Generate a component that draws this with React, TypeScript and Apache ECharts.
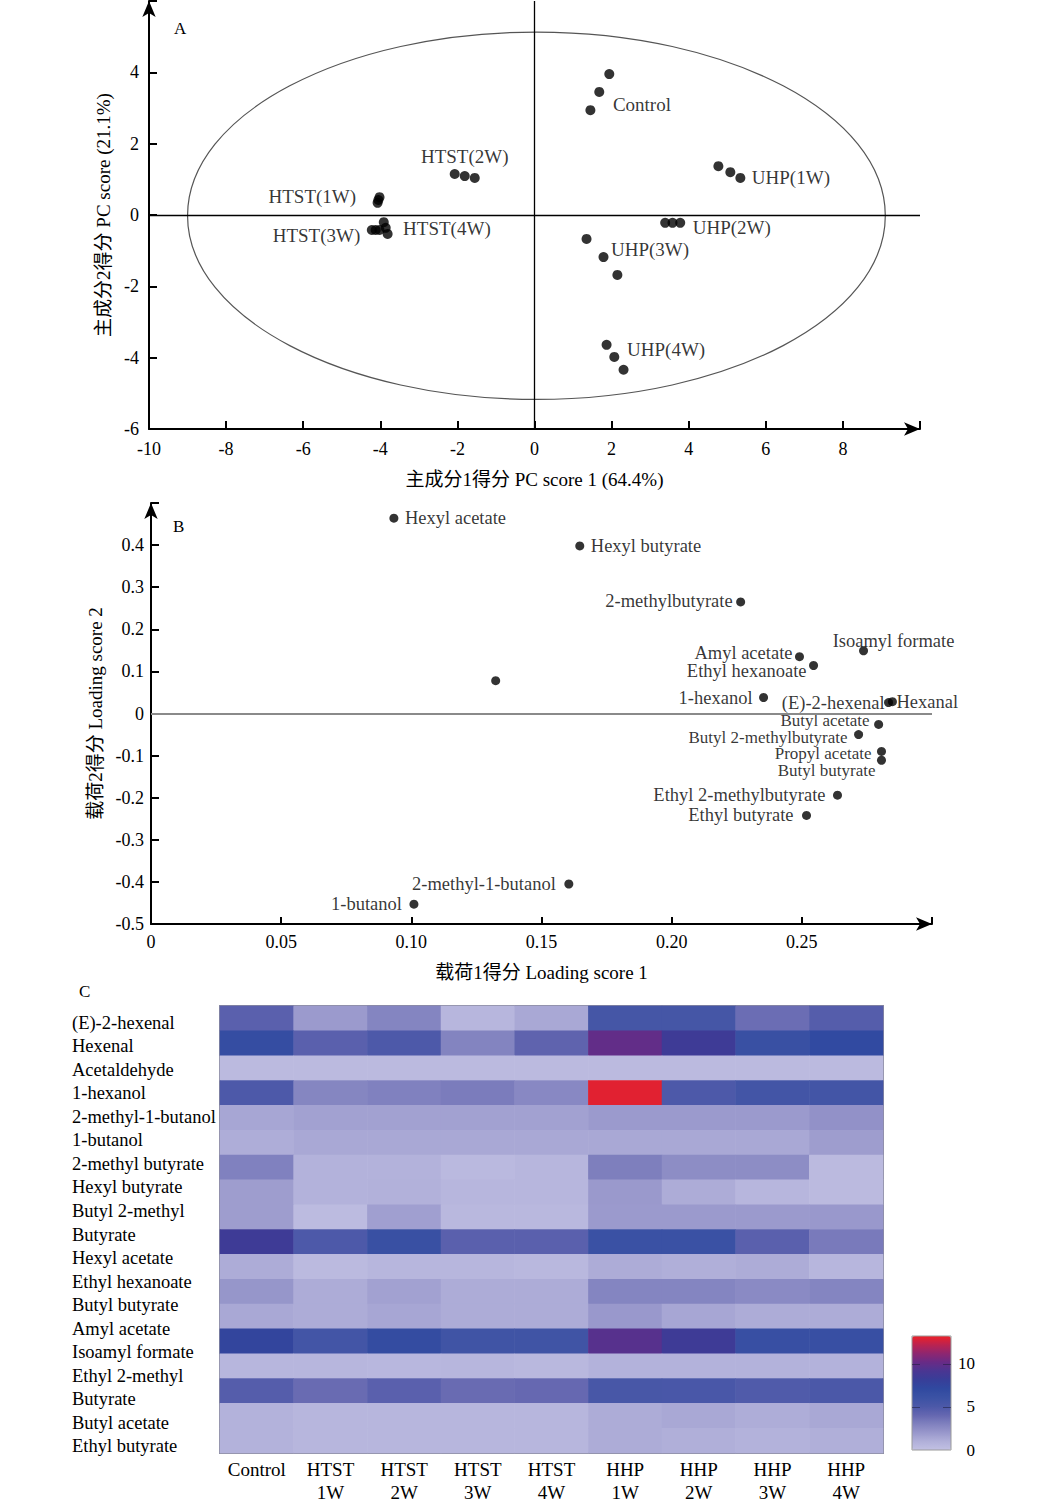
import React, { useEffect, useRef } from 'react';
import * as echarts from 'echarts';

const FONT = "'Liberation Serif', 'Noto Sans CJK SC', serif";

// ---------- Panel A: PC scores ----------
const pcGroupNames = ['Control', 'UHP(1W)', 'UHP(2W)', 'UHP(3W)', 'UHP(4W)', 'HTST(1W)', 'HTST(2W)', 'HTST(3W)', 'HTST(4W)'];
const pcControl = [[1.94, 3.95], [1.68, 3.45], [1.45, 2.94]];
const pcUhp1 = [[4.77, 1.37], [5.08, 1.2], [5.34, 1.04]];
const pcUhp2 = [[3.39, -0.22], [3.58, -0.22], [3.78, -0.22]];
const pcUhp3 = [[1.35, -0.67], [1.79, -1.18], [2.15, -1.68]];
const pcUhp4 = [[1.87, -3.64], [2.07, -3.98], [2.31, -4.34]];
const pcHtst1 = [[-4.07, 0.34], [-4.05, 0.42], [-4.02, 0.5]];
const pcHtst2 = [[-2.07, 1.15], [-1.81, 1.09], [-1.55, 1.04]];
const pcHtst3 = [[-4.22, -0.42], [-4.12, -0.42], [-4.02, -0.42]];
const pcHtst4 = [[-3.91, -0.2], [-3.86, -0.36], [-3.81, -0.53]];
const pcGroupPoints = [pcControl, pcUhp1, pcUhp2, pcUhp3, pcUhp4, pcHtst1, pcHtst2, pcHtst3, pcHtst4];
// confidence ellipse: centre x, centre y, semi-axis x, semi-axis y
const pcEllipse = [[0.05, -0.02, 9.05, 5.15]];
const pcXTicks = { min: -10, max: 10, interval: 2 };
const pcYTicks = { min: -6, max: 6, interval: 2 };
// label placement (style): which point carries the label, side, offset
const pcLabelStyle = [
  { at: 2, pos: 'right', off: [17.5, -6] },
  { at: 2, pos: 'right', off: [6.5, 0] },
  { at: 2, pos: 'right', off: [7.5, 5] },
  { at: 1, pos: 'right', off: [2.5, -8] },
  { at: 0, pos: 'right', off: [15.5, 5] },
  { at: 0, pos: 'left', off: [-16.5, -6] },
  { at: 1, pos: 'top', off: [0, -5] },
  { at: 0, pos: 'left', off: [-6.5, 6] },
  { at: 2, pos: 'right', off: [10.5, -5] },
];

// ---------- Panel B: loadings ----------
const loadNames = ['Hexyl acetate', 'Hexyl butyrate', '2-methylbutyrate', 'Isoamyl formate', 'Amyl acetate', 'Ethyl hexanoate', '', '1-hexanol', '(E)-2-hexenal', 'Hexanal', 'Butyl acetate', 'Butyl 2-methylbutyrate', 'Propyl acetate', 'Butyl butyrate', 'Ethyl 2-methylbutyrate', 'Ethyl butyrate', '2-methyl-1-butanol', '1-butanol'];
const loadX = [0.0933, 0.1647, 0.2265, 0.2737, 0.2491, 0.2545, 0.1324, 0.2353, 0.2833, 0.2848, 0.2795, 0.2718, 0.2806, 0.2806, 0.2637, 0.2518, 0.1605, 0.101];
const loadY = [0.464, 0.398, 0.265, 0.149, 0.135, 0.114, 0.078, 0.038, 0.026, 0.028, -0.026, -0.05, -0.09, -0.111, -0.194, -0.242, -0.405, -0.453];
const loadLabelStyle = [
  { pos: 'right', off: [6.5, 0], size: 18.5 },
  { pos: 'right', off: [6.5, 0], size: 18.5 },
  { pos: 'left', off: [-3.5, -1], size: 18.5 },
  { pos: 'top', off: [30, 4], size: 18.5 },
  { pos: 'left', off: [-2.5, -4], size: 18.5 },
  { pos: 'left', off: [-2.5, 5], size: 18.5 },
  { pos: 'left', off: [0, 0], size: 18.5 },
  { pos: 'left', off: [-6.5, 0], size: 18.5 },
  { pos: 'left', off: [0.5, 0], size: 18.5 },
  { pos: 'right', off: [-0.5, 0], size: 18.5 },
  { pos: 'left', off: [-4.5, -4], size: 17 },
  { pos: 'left', off: [-6.5, 3], size: 17 },
  { pos: 'left', off: [-5.5, 2], size: 17 },
  { pos: 'left', off: [-1.5, 10], size: 17 },
  { pos: 'left', off: [-7.5, 0], size: 18.5 },
  { pos: 'left', off: [-8.5, 0], size: 18.5 },
  { pos: 'left', off: [-8.5, 0], size: 18.5 },
  { pos: 'left', off: [-7.5, 0], size: 18.5 },
];
const loadXTicks = { min: 0, max: 0.3, interval: 0.05 };
const loadYTicks = { min: -0.5, max: 0.5, interval: 0.1 };

// ---------- Panel C: heatmap ----------
const heatCols = ['Control', 'HTST\n1W', 'HTST\n2W', 'HTST\n3W', 'HTST\n4W', 'HHP\n1W', 'HHP\n2W', 'HHP\n3W', 'HHP\n4W'];
const heatRowLabels = ['(E)-2-hexenal', 'Hexenal', 'Acetaldehyde', '1-hexanol', '2-methyl-1-butanol', '1-butanol', '2-methyl butyrate', 'Hexyl butyrate', 'Butyl 2-methyl', 'Butyrate', 'Hexyl acetate', 'Ethyl hexanoate', 'Butyl butyrate', 'Amyl acetate', 'Isoamyl formate', 'Ethyl 2-methyl', 'Butyrate', 'Butyl acetate', 'Ethyl butyrate'];
const heatRows = [
  [4.5, 1.9, 2.85, 0.65, 1.3, 5.5, 5.5, 3.8, 4.7],
  [6.7, 4.5, 5.0, 2.9, 4.3, 10.0, 8.5, 6.3, 7.0],
  [0.4, 0.4, 0.4, 0.4, 0.4, 0.4, 0.4, 0.4, 0.4],
  [5.0, 2.8, 3.0, 3.2, 2.7, 13.0, 5.0, 5.6, 5.6],
  [1.4, 1.6, 1.6, 1.6, 1.6, 1.9, 1.9, 1.9, 2.3],
  [1.1, 1.3, 1.3, 1.3, 1.3, 1.3, 1.3, 1.3, 1.8],
  [3.0, 0.85, 0.85, 0.45, 0.6, 3.1, 2.5, 2.5, 0.4],
  [1.8, 0.85, 0.9, 0.6, 0.6, 1.95, 1.15, 0.6, 0.4],
  [1.8, 0.35, 1.7, 0.5, 0.5, 1.9, 1.9, 1.9, 2.0],
  [8.5, 5.0, 6.3, 4.5, 4.5, 6.2, 6.2, 4.5, 3.3],
  [1.15, 0.4, 0.6, 0.6, 0.5, 1.15, 1.0, 1.15, 0.6],
  [2.1, 1.15, 1.6, 1.15, 1.15, 2.85, 2.85, 2.6, 2.85],
  [1.3, 1.15, 1.4, 1.15, 1.15, 2.0, 1.4, 1.15, 1.15],
  [7.5, 5.6, 6.8, 5.8, 5.8, 9.6, 8.5, 6.4, 6.4],
  [0.6, 0.6, 0.55, 0.6, 0.5, 0.85, 0.85, 0.85, 0.85],
  [4.7, 3.9, 4.5, 3.9, 4.0, 5.3, 5.2, 4.9, 5.1],
  [0.85, 0.6, 0.6, 0.6, 0.6, 1.15, 1.3, 1.1, 1.3],
  [0.85, 0.6, 0.6, 0.6, 0.6, 1.15, 1.0, 0.85, 1.0],
];
const colorbarRange = { min: 0, max: 13.25, interval: 5 };
const heatColors = ['#c2c1e3', '#b0afd9', '#9897cb', '#7f80be', '#6466b0', '#4b58a8', '#3b52a4', '#3049a0', '#383e98', '#4a3692', '#682b86', '#8e2670', '#bb2350', '#ee2027'];

const txt = { fontFamily: FONT, color: '#000' };
const TICK_SIZE = 18;
const TITLE_SIZE = 19;

function buildOption() {
  const axisLineStyle = { color: '#000', width: 2 };
  const arrowLine = { show: true, onZero: false, lineStyle: axisLineStyle, symbol: ['none', 'arrow'], symbolSize: [10, 16] };
  const fmt = (v: number, max: number, dec: number) => {
    if (Math.abs(v - max) < 1e-9) return '';
    if (Math.abs(v) < 1e-9) return '0';
    return dec ? v.toFixed(dec) : String(Math.round(v));
  };

  const scatterA = pcGroupNames.map((name, gi) => {
    const ls = pcLabelStyle[gi];
    return {
      type: 'scatter',
      xAxisIndex: 0,
      yAxisIndex: 0,
      symbolSize: 10,
      itemStyle: { color: '#000' },
      silent: true,
      data: pcGroupPoints[gi].map((p, i) => ({
        value: p,
        label: i === ls.at
          ? { show: true, formatter: name, position: ls.pos, distance: 0, offset: ls.off, fontSize: 19, ...txt }
          : { show: false },
      })),
      markLine: gi === 0 ? {
        silent: true,
        symbol: 'none',
        label: { show: false },
        lineStyle: { color: '#000', width: 1.3, type: 'solid' },
        data: [{ xAxis: 0 }, { yAxis: 0 }],
      } : undefined,
    };
  });

  const ellipse = {
    type: 'custom',
    xAxisIndex: 0,
    yAxisIndex: 0,
    silent: true,
    data: pcEllipse,
    renderItem: (params: any, api: any) => {
      const cx = api.value(0), cy = api.value(1), ax = api.value(2), ay = api.value(3);
      const c = api.coord([cx, cy]);
      const px = api.coord([cx + ax, cy]);
      const py = api.coord([cx, cy + ay]);
      return {
        type: 'ellipse',
        shape: { cx: c[0], cy: c[1], rx: px[0] - c[0], ry: c[1] - py[1] },
        style: { fill: 'none', stroke: '#555', lineWidth: 1.2 },
      };
    },
  };

  const scatterB = {
    type: 'scatter',
    xAxisIndex: 1,
    yAxisIndex: 1,
    symbolSize: 9,
    silent: true,
    itemStyle: { color: '#000' },
    data: loadX.map((x, i) => ({
      value: [x, loadY[i]],
      label: loadNames[i]
        ? {
            show: true, formatter: loadNames[i], position: loadLabelStyle[i].pos, distance: 0,
            offset: loadLabelStyle[i].off, fontSize: loadLabelStyle[i].size, ...txt,
          }
        : { show: false },
    })),
    markLine: {
      silent: true,
      symbol: 'none',
      label: { show: false },
      lineStyle: { color: '#8a8a8a', width: 2.2, type: 'solid' },
      data: [{ yAxis: 0 }],
    },
  };

  const heat = {
    type: 'heatmap',
    xAxisIndex: 2,
    yAxisIndex: 2,
    silent: true,
    emphasis: { disabled: true },
    data: heatRows.flatMap((row, r) => row.map((v, c) => [c, r, v])),
  };

  return {
    animation: false,
    textStyle: txt,
    grid: [
      { left: 149, top: 1, width: 771, height: 428 },
      { left: 151, top: 503, width: 781, height: 421 },
      { left: 220, top: 1006, width: 663, height: 447, show: true, borderColor: '#8c8ca0', borderWidth: 2, backgroundColor: 'transparent' },
      { left: 912, top: 1336, width: 39, height: 114, show: true, borderColor: '#9a9a9a', borderWidth: 1, backgroundColor: 'transparent', z: 10 },
    ],
    xAxis: [
      {
        gridIndex: 0, type: 'value', ...pcXTicks,
        axisLine: arrowLine,
        axisTick: { show: true, inside: true, length: 8, lineStyle: axisLineStyle },
        axisLabel: { formatter: (v: number) => fmt(v, pcXTicks.max, 0), fontSize: TICK_SIZE, margin: 11, ...txt },
        splitLine: { show: false },
        name: '主成分1得分 PC score 1 (64.4%)', nameLocation: 'middle', nameGap: 41,
        nameTextStyle: { fontSize: TITLE_SIZE, ...txt },
      },
      {
        gridIndex: 1, type: 'value', ...loadXTicks,
        axisLine: arrowLine,
        axisTick: { show: true, inside: true, length: 7, lineStyle: axisLineStyle },
        axisLabel: { formatter: (v: number) => fmt(v, loadXTicks.max, 2), fontSize: TICK_SIZE, margin: 9, ...txt },
        splitLine: { show: false },
        name: '载荷1得分 Loading score 1', nameLocation: 'middle', nameGap: 39,
        nameTextStyle: { fontSize: TITLE_SIZE, ...txt },
      },
      {
        gridIndex: 2, type: 'category', data: heatCols, position: 'bottom',
        axisLine: { show: false }, axisTick: { show: false }, splitLine: { show: false },
        axisLabel: { fontSize: 19, lineHeight: 23, margin: 5, interval: 0, ...txt },
      },
      { gridIndex: 3, type: 'value', show: false, min: 0, max: 1 },
    ],
    yAxis: [
      {
        gridIndex: 0, type: 'value', ...pcYTicks,
        axisLine: arrowLine,
        axisTick: { show: true, inside: true, length: 8, lineStyle: axisLineStyle },
        axisLabel: { formatter: (v: number) => fmt(v, pcYTicks.max, 0), fontSize: TICK_SIZE, margin: 10, ...txt },
        splitLine: { show: false },
        name: '主成分2得分 PC score (21.1%)', nameLocation: 'middle', nameGap: 33,
        nameTextStyle: { fontSize: TITLE_SIZE, ...txt },
      },
      {
        gridIndex: 1, type: 'value', ...loadYTicks,
        axisLine: arrowLine,
        axisTick: { show: true, inside: true, length: 8, lineStyle: axisLineStyle },
        axisLabel: { formatter: (v: number) => fmt(v, loadYTicks.max, 1), fontSize: TICK_SIZE, margin: 7, ...txt },
        splitLine: { show: false },
        name: '载荷2得分 Loading score 2', nameLocation: 'middle', nameGap: 46,
        nameTextStyle: { fontSize: TITLE_SIZE, ...txt },
      },
      {
        gridIndex: 2, type: 'category', position: 'left', inverse: true,
        data: heatRows.map((_, i) => String(i)),
        axisLine: { show: false }, axisTick: { show: false }, axisLabel: { show: false }, splitLine: { show: false },
      },
      {
        gridIndex: 2, type: 'category', position: 'left', inverse: true,
        data: heatRowLabels,
        axisLine: { show: false }, axisTick: { show: false }, splitLine: { show: false },
        axisLabel: { align: 'left', verticalAlign: 'top', lineHeight: 10, margin: 148, fontSize: 18.5, interval: 0, ...txt },
      },
      {
        gridIndex: 3, type: 'value', position: 'right', ...colorbarRange, z: 10,
        axisLine: { show: false },
        axisTick: { show: false },
        axisLabel: { formatter: (v: number) => fmt(v, colorbarRange.max, 0), align: 'right', margin: 24, fontSize: 17, ...txt },
        splitLine: {
          show: true, showMinLine: false, showMaxLine: false,
          lineStyle: { color: 'rgba(30,30,60,0.55)', width: 1, type: [8, 23] },
        },
      },
    ],
    visualMap: {
      type: 'continuous',
      seriesIndex: 11,
      min: colorbarRange.min,
      max: colorbarRange.max,
      left: 912,
      top: 1336,
      itemWidth: 39,
      itemHeight: 114,
      padding: 0,
      calculable: false,
      hoverLink: false,
      inRange: { color: heatColors },
    },
    graphic: [
      { type: 'text', left: 174, top: 20, style: { text: 'A', fontSize: 17, fontFamily: FONT, fill: '#000' } },
      { type: 'text', left: 173, top: 518, style: { text: 'B', fontSize: 17, fontFamily: FONT, fill: '#000' } },
      { type: 'text', left: 79, top: 983, style: { text: 'C', fontSize: 17, fontFamily: FONT, fill: '#000' } },
    ],
    series: [...scatterA, ellipse, scatterB, heat],
  };
}

export default function App() {
  const ref = useRef<HTMLDivElement>(null);
  useEffect(() => {
    if (!ref.current) return;
    const chart = echarts.init(ref.current, null, { renderer: 'svg' });
    chart.setOption(buildOption() as any);
    return () => chart.dispose();
  }, []);
  return (
    <div
      ref={ref}
      style={{ position: 'absolute', left: 0, top: 0, width: 1037, height: 1509, background: '#fff' }}
    />
  );
}
